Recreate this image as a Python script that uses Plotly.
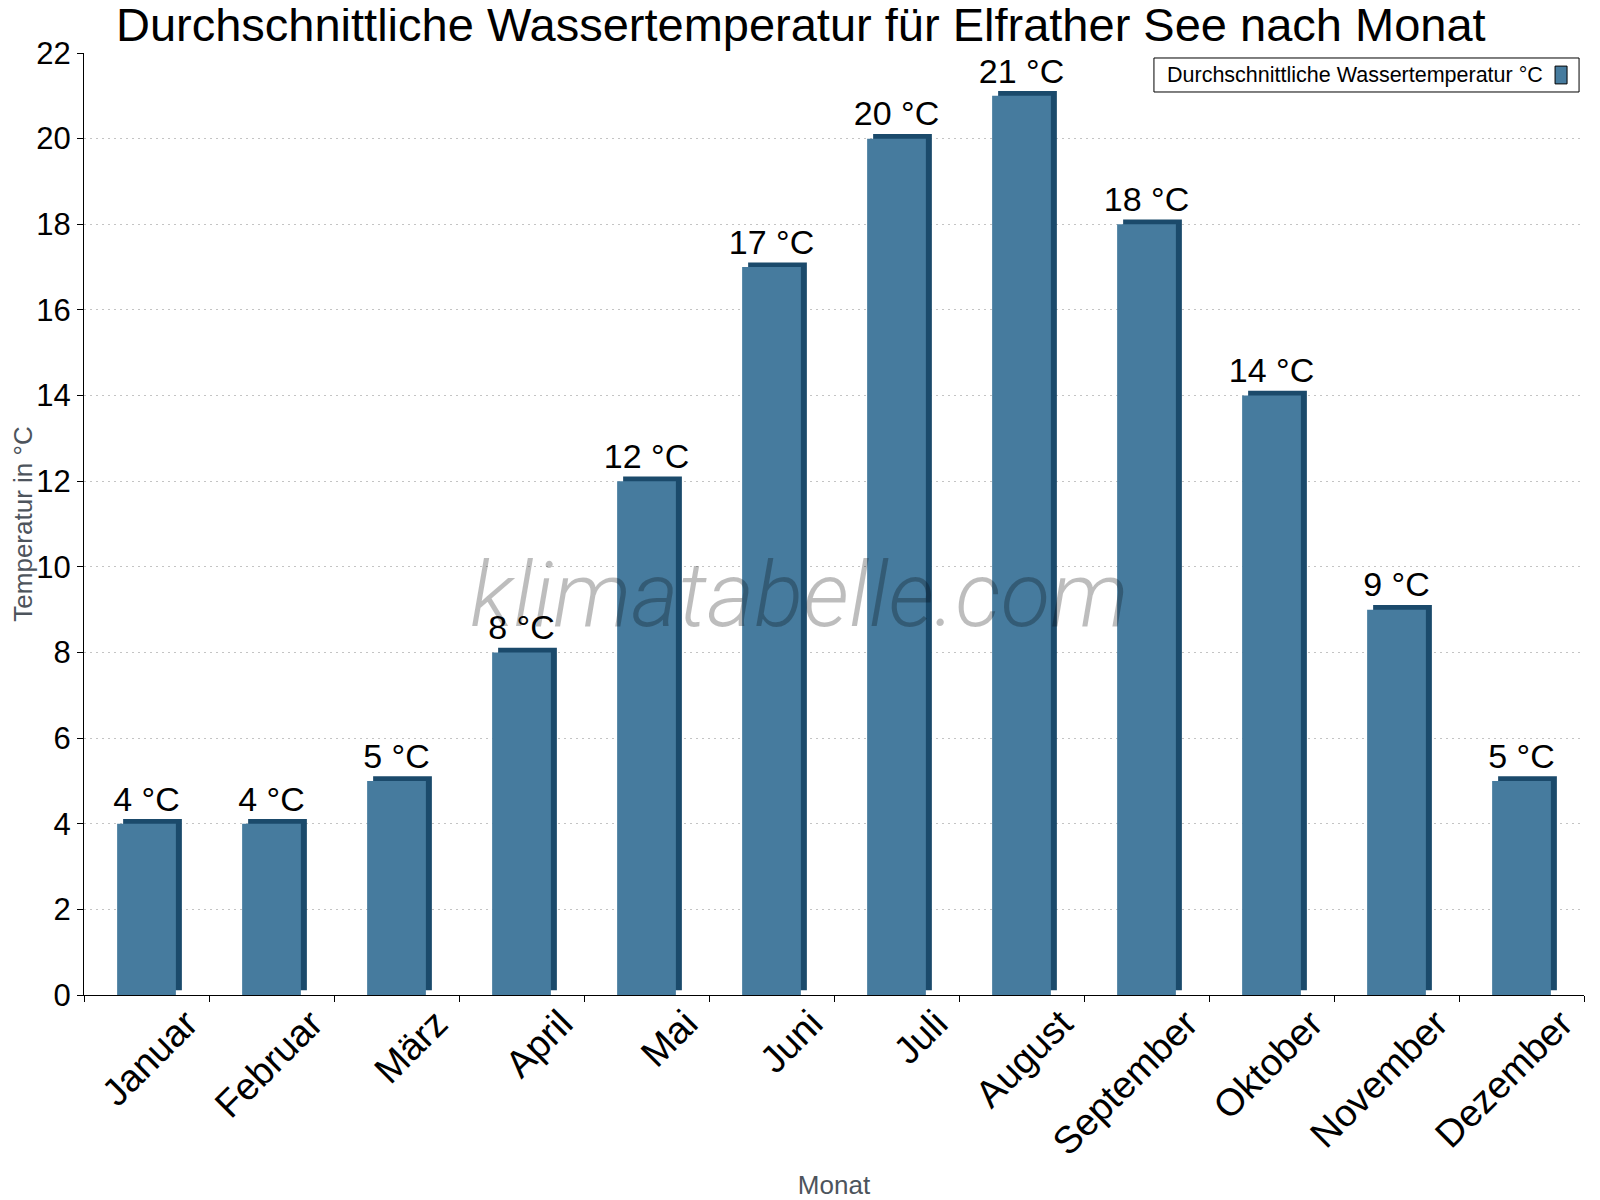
import plotly.graph_objects as go

months = [
    "Januar", "Februar", "März", "April", "Mai", "Juni",
    "Juli", "August", "September", "Oktober", "November", "Dezember",
]
water_temp = [4, 4, 5, 8, 12, 17, 20, 21, 18, 14, 9, 5]
labels = [f"{v} °C" for v in water_temp]

front_color = "#467b9e"
side_color = "#1b4a6b"
axis_title_color = "#4d545c"
depth = 0.11  # fake 3d top, in y units

fig = go.Figure()

# darker copy behind the front face gives the 3d top/right edge
fig.add_trace(go.Bar(
    x=months, y=water_temp, base=depth,
    width=0.47, offset=-0.187,
    marker=dict(color=side_color, line=dict(width=0)),
    hoverinfo="skip", showlegend=False,
))
fig.add_trace(go.Bar(
    x=months, y=water_temp,
    width=0.47, offset=-0.235,
    marker=dict(color=front_color, line=dict(width=0)),
    name="Durchschnittliche Wassertemperatur °C", showlegend=False,
))
fig.add_trace(go.Scatter(
    x=months, y=[v + depth for v in water_temp],
    mode="text", text=labels, textposition="top center",
    textfont=dict(size=34, color="#000", family="Liberation Sans, Arial"),
    cliponaxis=False, hoverinfo="skip", showlegend=False,
))

# legend box drawn by hand (symbol sits right of the text)
fig.add_shape(type="rect", xref="paper", yref="paper",
              x0=0.7133, x1=0.9967, y0=0.9586, y1=0.9947,
              line=dict(color="#000", width=1), fillcolor="white", layer="above")
fig.add_shape(type="rect", xref="paper", yref="paper",
              x0=0.9807, x1=0.9887, y0=0.9672, y1=0.9861,
              line=dict(color="#000", width=1), fillcolor=front_color, layer="above")
fig.add_annotation(
    text="Durchschnittliche Wassertemperatur °C",
    xref="paper", yref="paper", x=0.7207, y=0.9766,
    xanchor="left", yanchor="middle", showarrow=False,
    font=dict(size=21.5, color="#000", family="Liberation Sans, Arial"),
)

# watermark
fig.add_annotation(
    text="klimatabelle.com",
    xref="paper", yref="paper", x=0.4767, y=0.425,
    xanchor="center", yanchor="middle", showarrow=False,
    font=dict(size=91, color="rgba(0,0,0,0.26)", family="Roboto",
              style="italic", weight=300),
)

fig.update_layout(
    width=1600, height=1200,
    margin=dict(l=76, r=24, t=45, b=213),
    plot_bgcolor="white", paper_bgcolor="white",
    barmode="overlay", bargap=0.5,
    font=dict(family="Liberation Sans, Arial", color="#000"),
    title=dict(
        text="Durchschnittliche Wassertemperatur für Elfrather See nach Monat",
        x=0.4955, xanchor="center", y=0.986, yanchor="middle",
        font=dict(size=47, color="#000"),
    ),
)
fig.update_xaxes(
    tickson="boundaries", ticks="outside", ticklen=6, tickcolor="#000",
    showline=True, linecolor="#000", linewidth=1,
    tickangle=-45, tickfont=dict(size=38, color="#000"),
    ticklabelshift=40, ticklabelstandoff=-10,
    title=dict(text="Monat", font=dict(size=26, color=axis_title_color), standoff=13),
    range=[-0.5, 11.5], automargin=False,
)
fig.update_yaxes(
    range=[0, 22], dtick=2, ticks="outside", ticklen=6, tickcolor="#000",
    showline=True, linecolor="#000", linewidth=1,
    tickfont=dict(size=31, color="#000"),
    showgrid=True, gridcolor="#c4c4c4", griddash="2px,4px", gridwidth=1,
    zeroline=False, automargin=False,
    title=dict(text="Temperatur in °C", font=dict(size=26, color=axis_title_color), standoff=4),
)

fig.write_html("out.html")
